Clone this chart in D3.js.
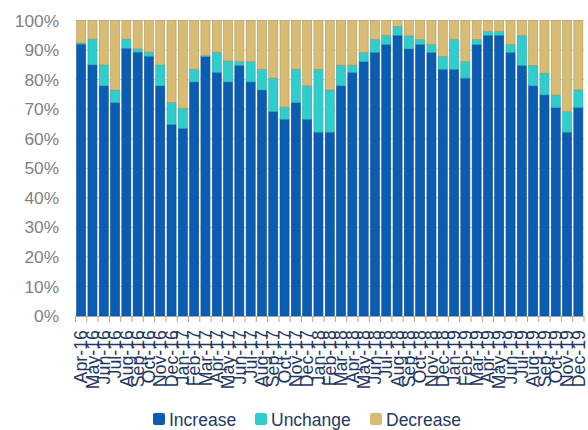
<!DOCTYPE html>
<html><head><meta charset="utf-8">
<script src="https://cdn.jsdelivr.net/npm/d3@7"></script>
<style>body{margin:0;background:#fff;} svg{display:block;}</style>
</head><body>
<script>
const categories = ["Apr-16","May-16","Jun-16","Jul-16","Aug-16","Sep-16","Oct-16","Nov-16","Dec-16",
"Jan-17","Feb-17","Mar-17","Apr-17","May-17","Jun-17","Jul-17","Aug-17","Sep-17","Oct-17","Nov-17","Dec-17",
"Jan-18","Feb-18","Mar-18","Apr-18","May-18","Jun-18","Jul-18","Aug-18","Sep-18","Oct-18","Nov-18","Dec-18",
"Jan-19","Feb-19","Mar-19","Apr-19","May-19","Jun-19","Jul-19","Aug-19","Sep-19","Oct-19","Nov-19","Dec-19"];
const increase = [92,85,77.9,72.2,90.6,89.3,87.9,77.9,64.8,63.5,79.2,87.8,82.4,79.2,84.8,79.2,76.5,69.2,66.6,72.2,66.6,62.2,62.2,77.9,82.4,86.1,89.2,91.9,95.0,90.4,91.9,89.2,83.5,83.5,80.5,91.9,95.0,95.0,89.2,84.8,77.9,74.8,70.5,62.2,70.5];
const unchange = [0.4,8.7,7.1,4.3,3.1,1.1,1.4,7.1,7.4,6.8,4.3,0.3,6.9,7.1,1.3,6.9,7.0,11.3,4.1,11.3,11.3,21.3,14.3,7.0,2.5,3.1,4.4,3.1,3.0,4.4,1.7,2.7,4.3,10.1,5.6,1.7,1.3,1.3,2.7,10.1,6.9,7.4,4.3,7.0,6.0];
const decrease = [7.6,6.3,15.0,23.5,6.3,9.6,10.7,15.0,27.8,29.7,16.5,11.9,10.7,13.7,13.9,13.9,16.5,19.5,29.3,16.5,22.1,16.5,23.5,15.1,15.1,10.8,6.4,5.0,2.0,5.2,6.4,8.1,12.2,6.4,13.9,6.4,3.7,3.7,8.1,5.1,15.2,17.8,25.2,30.8,23.5];
const seriesNames = ["Increase","Unchange","Decrease"];
const yTicks = [0,10,20,30,40,50,60,70,80,90,100];
const colors = ["#0B5DB3","#30CDCD","#D8BC74"];

const W = 588, H = 430;
const svg = d3.select("body").append("svg").attr("width", W).attr("height", H);
const rows = categories.map((c,i)=>({cat:c, Increase:increase[i], Unchange:unchange[i], Decrease:decrease[i]}));
const stacked = d3.stack().keys(seriesNames)(rows);

const x = d3.scaleBand().domain(categories).range([75.5, 584]).paddingInner(0.2).paddingOuter(0.1);
const y = d3.scaleLinear().domain([0,100]).range([316, 20.5]);
const font = "'Liberation Sans', Arial, sans-serif";

// gridlines
svg.append("g").selectAll("line").data(yTicks.filter(d=>d>0)).join("line")
  .attr("x1", 75.5).attr("x2", 584).attr("y1", d=>y(d)).attr("y2", d=>y(d))
  .attr("stroke", "#d9d9d9").attr("stroke-width", 1);

// y labels
svg.append("g").selectAll("text").data(yTicks).join("text")
  .attr("x", 59).attr("y", d=>y(d)).attr("dy", "0.35em").attr("text-anchor","end")
  .attr("font-family", font).attr("font-size", 17.3).attr("fill", "#7f7f7f")
  .text(d=>d+"%");

// bars
svg.append("g").selectAll("g").data(stacked).join("g")
  .attr("fill", (d,i)=>colors[i])
  .attr("stroke", (d,i)=>d3.color(colors[i]).darker(0.6))
  .attr("stroke-width", 0.6)
  .selectAll("rect").data(d=>d).join("rect")
  .attr("x", d=>x(d.data.cat)).attr("width", x.bandwidth())
  .attr("y", d=>y(d[1])).attr("height", d=>Math.max(0, y(d[0])-y(d[1])));

// x axis
const xAxis = svg.append("g");
xAxis.append("line").attr("x1", 75.5).attr("x2", 584).attr("y1", 316.5).attr("y2", 316.5)
  .attr("stroke", "#a6a6a6").attr("stroke-width", 1);
const step = x.step();
xAxis.selectAll("line.tick").data(d3.range(categories.length+1)).join("line").attr("class","tick")
  .attr("x1", i=>75.5 + i*step).attr("x2", i=>75.5 + i*step)
  .attr("y1", 316).attr("y2", 322).attr("stroke", "#a6a6a6").attr("stroke-width", 1);
xAxis.selectAll("text").data(categories).join("text")
  .attr("transform", d=>`translate(${x(d)+x.bandwidth()/2},330) rotate(-90)`)
  .attr("text-anchor","end").attr("dy","0.35em")
  .attr("font-family", font).attr("font-size", 17.8).attr("fill", "#1f3864")
  .text(d=>d);

// legend
const legendX = [153, 255, 370];
const lg = svg.append("g").selectAll("g").data(seriesNames).join("g")
  .attr("transform", (d,i)=>`translate(${legendX[i]},413)`);
lg.append("rect").attr("width", 12).attr("height", 12).attr("rx", 2)
  .attr("fill", (d,i)=>colors[i]);
lg.append("text").attr("x", 16).attr("y", 12.5)
  .attr("font-family", font).attr("font-size", 17.5).attr("fill", "#1f3864")
  .text(d=>d);
</script>
</body></html>
